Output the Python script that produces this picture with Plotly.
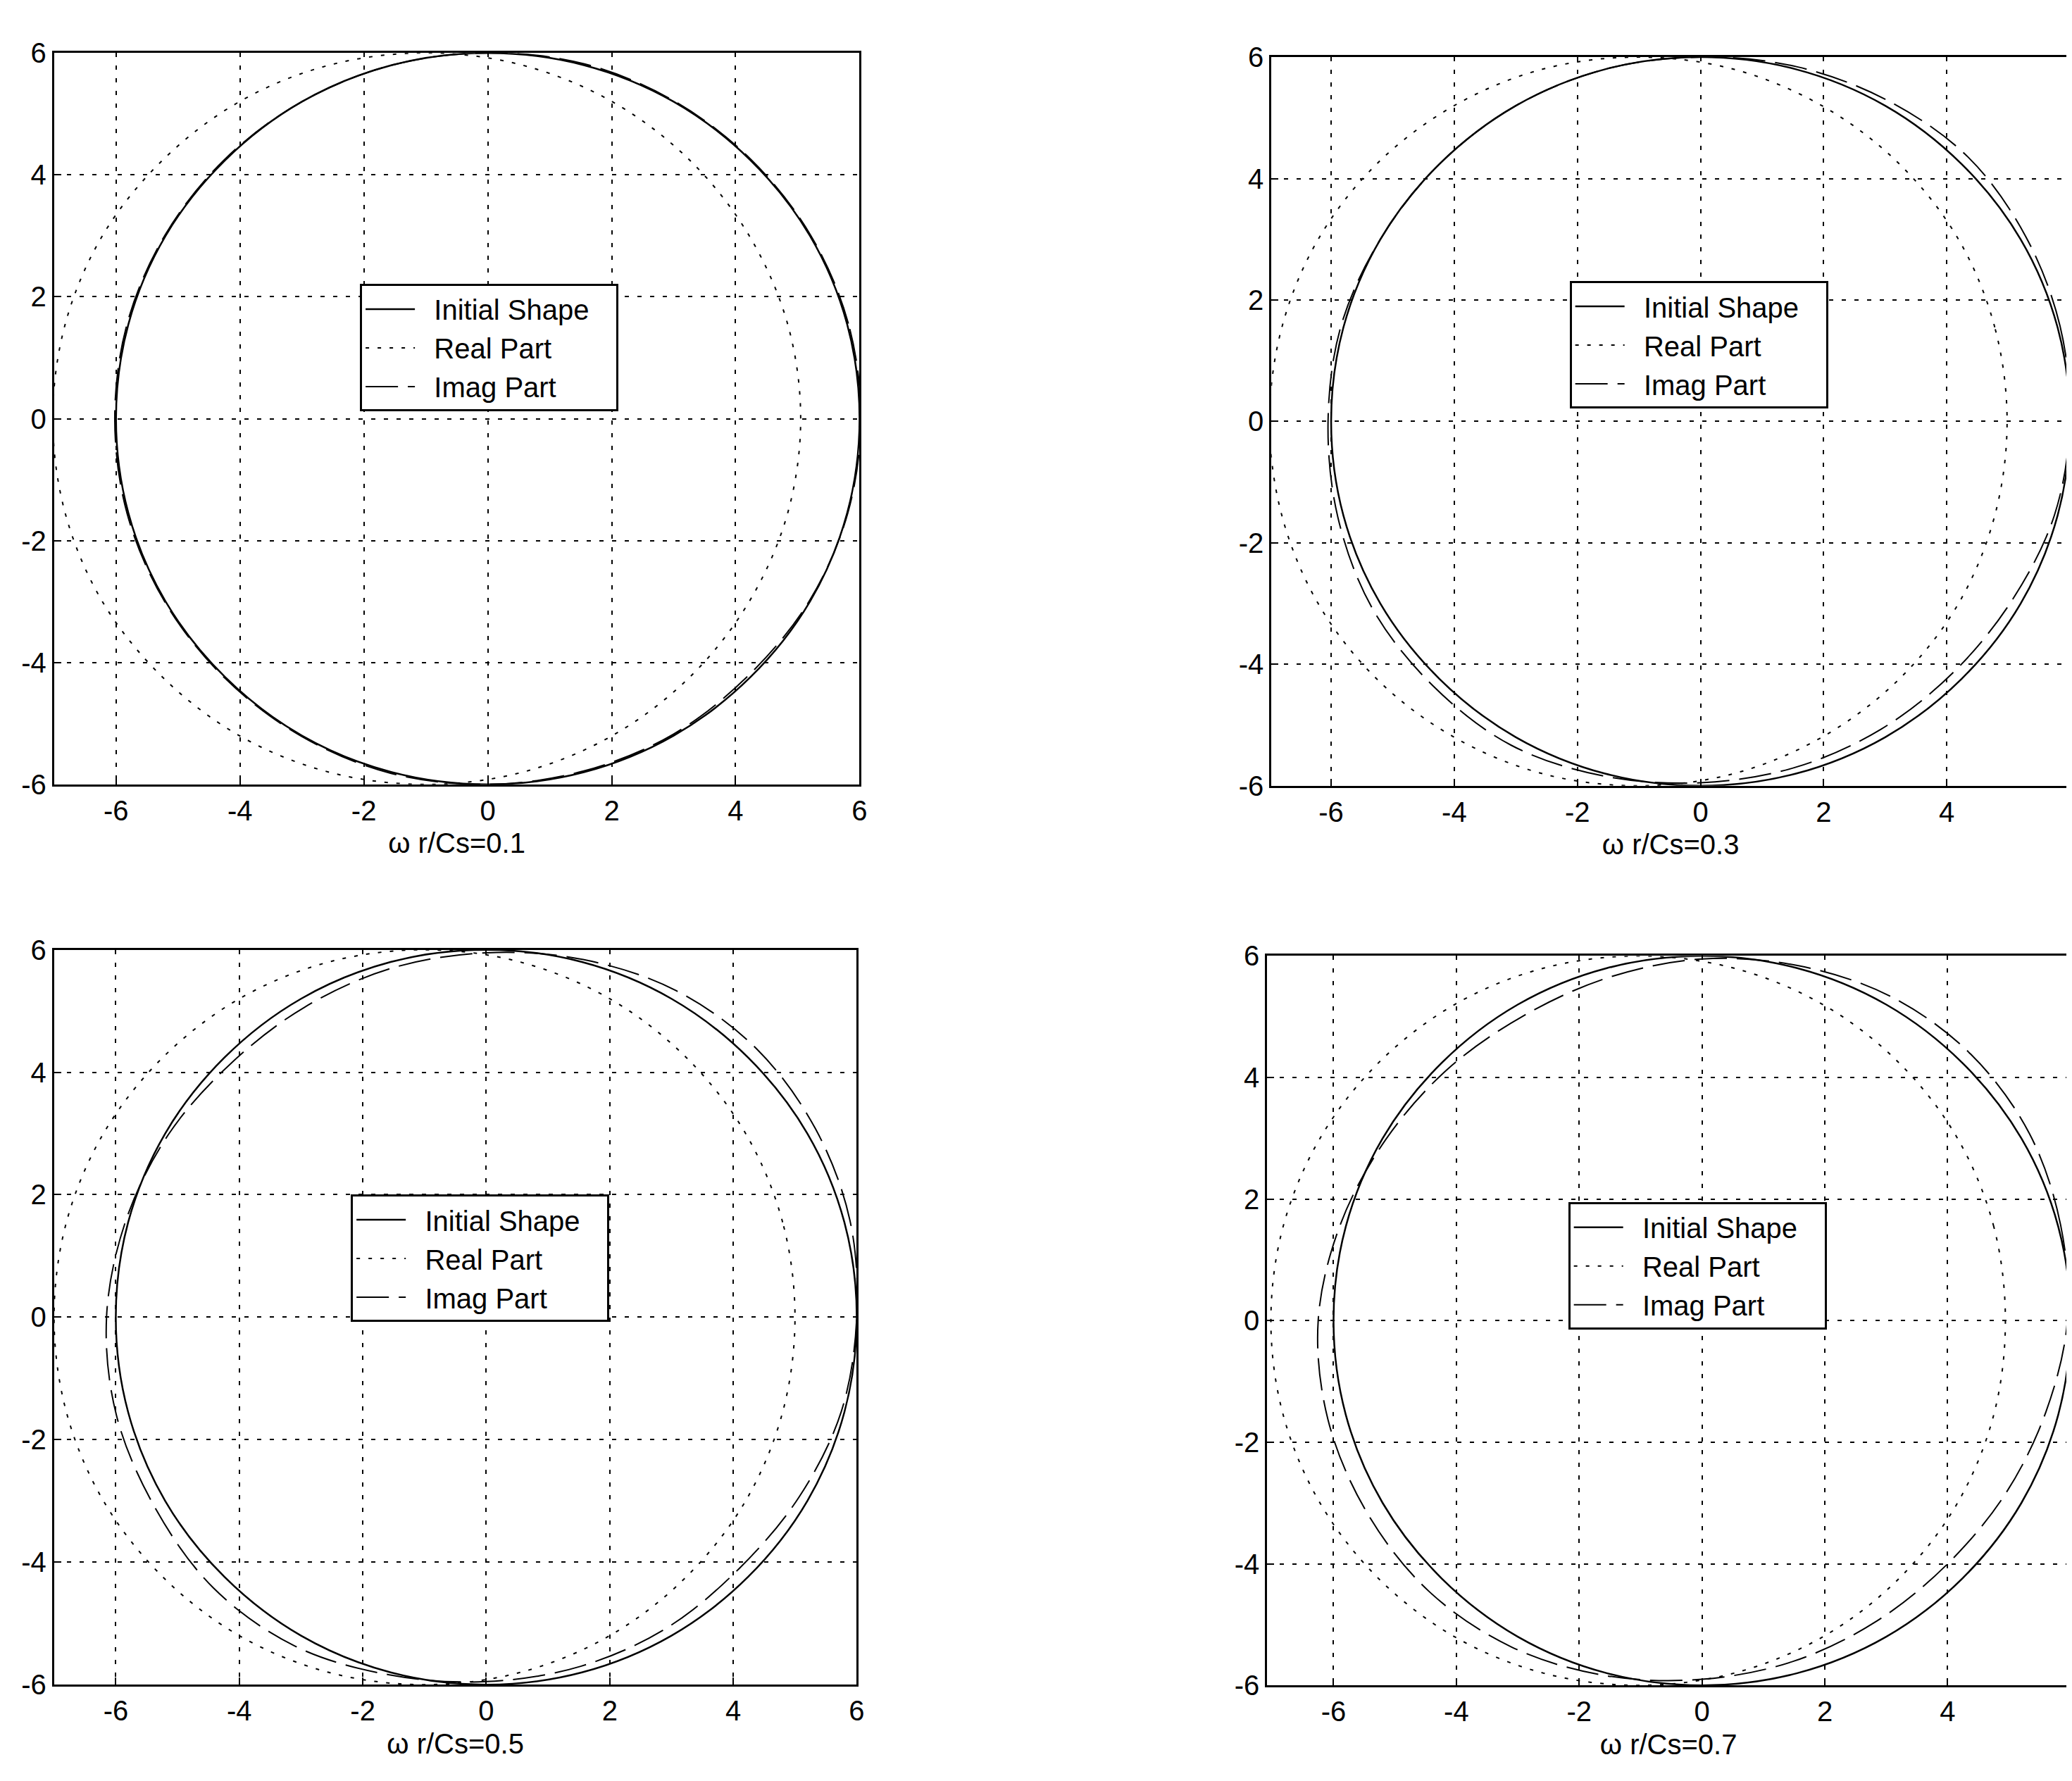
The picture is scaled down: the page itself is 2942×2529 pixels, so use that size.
import plotly.graph_objects as go

FONT = "Liberation Sans, Arial, sans-serif"

tick_vals = [-6, -4, -2, 0, 2, 4, 6]
tick_text = ["-6", "-4", "-2", "0", "2", "4", "6"]
panel_titles = ["ω r/Cs=0.1", "ω r/Cs=0.3", "ω r/Cs=0.5", "ω r/Cs=0.7"]
series_names = ["Initial Shape", "Real Part", "Imag Part"]

# Initial shape (same in all panels)
init_x = [6.00, 5.80, 5.20, 4.24, 3.00, 1.55, 0.00, -1.55, -3.00, -4.24, -5.20, -5.80, -6.00,
          -5.80, -5.20, -4.24, -3.00, -1.55, 0.00, 1.55, 3.00, 4.24, 5.20, 5.80, 6.00]
init_y = [0.00, 1.55, 3.00, 4.24, 5.20, 5.80, 6.00, 5.80, 5.20, 4.24, 3.00, 1.55, 0.00,
          -1.55, -3.00, -4.24, -5.20, -5.80, -6.00, -5.80, -5.20, -4.24, -3.00, -1.55, 0.00]

# omega r/Cs = 0.1
real_x_01 = [5.05, 4.84, 4.22, 3.26, 2.01, 0.56, -1.00, -2.56, -4.01, -5.25, -6.22, -6.82, -7.02,
             -6.82, -6.22, -5.25, -4.01, -2.56, -1.00, 0.56, 2.01, 3.26, 4.22, 4.84, 5.05]
real_y_01 = [0.00, 1.55, 3.00, 4.24, 5.20, 5.80, 6.00, 5.80, 5.20, 4.24, 3.00, 1.55, 0.00,
             -1.55, -3.00, -4.24, -5.20, -5.80, -6.00, -5.80, -5.20, -4.24, -3.00, -1.55, 0.00]
imag_x_01 = [6.02, 5.82, 5.21, 4.25, 3.01, 1.56, 0.00, -1.55, -3.00, -4.25, -5.21, -5.82, -6.02,
             -5.82, -5.21, -4.25, -3.01, -1.56, 0.00, 1.55, 2.99, 4.21, 5.19, 5.81, 6.02]
imag_y_01 = [0.00, 1.56, 3.01, 4.25, 5.21, 5.82, 6.00, 5.80, 5.20, 4.25, 3.01, 1.56, 0.00,
             -1.56, -3.01, -4.25, -5.21, -5.82, -6.00, -5.78, -5.18, -4.21, -2.99, -1.55, 0.00]

# omega r/Cs = 0.3
real_x_03 = [4.98, 4.78, 4.19, 3.23, 1.99, 0.54, -1.02, -2.57, -4.02, -5.26, -6.21, -6.80, -7.00,
             -6.80, -6.21, -5.26, -4.02, -2.57, -1.02, 0.54, 1.99, 3.23, 4.19, 4.78, 4.98]
real_y_03 = [0.00, 1.55, 3.00, 4.24, 5.19, 5.80, 6.00, 5.80, 5.19, 4.24, 3.00, 1.55, 0.00,
             -1.55, -3.00, -4.24, -5.19, -5.80, -6.00, -5.80, -5.19, -4.24, -3.00, -1.55, 0.00]
imag_x_03 = [6.00, 5.84, 5.28, 4.35, 3.05, 1.57, 0.00, -1.55, -3.00, -4.24, -5.20, -5.84, -6.05,
             -5.89, -5.33, -4.35, -3.08, -1.57, 0.00, 1.53, 2.93, 4.12, 5.07, 5.75, 6.00]
imag_y_03 = [0.00, 1.57, 3.05, 4.35, 5.28, 5.84, 6.00, 5.80, 5.20, 4.24, 3.00, 1.57, 0.00,
             -1.58, -3.08, -4.35, -5.33, -5.84, -5.95, -5.70, -5.07, -4.12, -2.93, -1.54, 0.00]

# omega r/Cs = 0.5
real_x_05 = [5.00, 4.80, 4.20, 3.24, 2.00, 0.55, -1.00, -2.55, -4.00, -5.24, -6.20, -6.80, -7.00,
             -6.80, -6.20, -5.24, -4.00, -2.55, -1.00, 0.55, 2.00, 3.24, 4.20, 4.80, 5.00]
real_y_05 = [0.00, 1.55, 3.00, 4.24, 5.20, 5.80, 6.00, 5.80, 5.20, 4.24, 3.00, 1.55, 0.00,
             -1.55, -3.00, -4.24, -5.20, -5.80, -6.00, -5.80, -5.20, -4.24, -3.00, -1.55, 0.00]
imag_x_05 = [6.00, 5.89, 5.33, 4.38, 3.08, 1.57, 0.00, -1.53, -2.93, -4.14, -5.15, -5.84, -6.15,
             -5.99, -5.37, -4.42, -3.10, -1.57, 0.00, 1.53, 2.93, 4.10, 5.07, 5.75, 6.00]
imag_y_05 = [0.00, 1.58, 3.08, 4.38, 5.33, 5.84, 5.95, 5.70, 5.07, 4.14, 2.98, 1.57, 0.00,
             -1.60, -3.10, -4.42, -5.37, -5.84, -5.95, -5.70, -5.07, -4.10, -2.93, -1.54, 0.00]

# omega r/Cs = 0.7
real_x_07 = [4.94, 4.75, 4.16, 3.21, 1.97, 0.52, -1.03, -2.58, -4.03, -5.27, -6.22, -6.82, -7.02,
             -6.82, -6.22, -5.27, -4.03, -2.58, -1.03, 0.52, 1.97, 3.21, 4.16, 4.75, 4.94]
real_y_07 = [0.00, 1.55, 3.00, 4.24, 5.20, 5.80, 6.00, 5.80, 5.20, 4.24, 3.00, 1.55, 0.00,
             -1.55, -3.00, -4.24, -5.20, -5.80, -6.00, -5.80, -5.20, -4.24, -3.00, -1.55, 0.00]
imag_x_07 = [5.95, 5.84, 5.33, 4.38, 3.08, 1.57, 0.00, -1.51, -2.90, -4.14, -5.15, -5.89, -6.25,
             -6.09, -5.46, -4.45, -3.10, -1.57, 0.00, 1.50, 2.85, 4.00, 4.94, 5.60, 5.95]
imag_y_07 = [0.00, 1.57, 3.08, 4.38, 5.33, 5.84, 5.95, 5.65, 5.02, 4.14, 2.98, 1.58, 0.00,
             -1.63, -3.15, -4.45, -5.37, -5.84, -5.90, -5.60, -4.94, -4.00, -2.85, -1.50, 0.00]

real_x = [real_x_01, real_x_03, real_x_05, real_x_07]
real_y = [real_y_01, real_y_03, real_y_05, real_y_07]
imag_x = [imag_x_01, imag_x_03, imag_x_05, imag_x_07]
imag_y = [imag_y_01, imag_y_03, imag_y_05, imag_y_07]

W, H = 2942, 2529
# panel frames in pixels: (left, right, top, bottom), x range
frames = [
    (69, 1217, 46, 1103, [-7.0, 6.0]),
    (1804, 2942, 52, 1105, [-6.97, 6.0]),
    (69, 1213, 1342, 2404, [-7.0, 6.0]),
    (1798, 2942, 1351, 2405, [-7.08, 5.99]),
]
legend_pos = [(505, 380), (2229, 376), (492, 1696), (2227, 1707)]

PAD_L = "\u00a0\u00a0"
PAD_R = "\u00a0\u00a0\u00a0"

fig = go.Figure()
layout = dict(
    width=W, height=H,
    margin=dict(l=0, r=0, t=0, b=0),
    paper_bgcolor="white", plot_bgcolor="white",
    font=dict(family=FONT, size=40, color="black"),
    showlegend=True,
)

for i in range(4):
    sfx = "" if i == 0 else str(i + 1)
    xa, ya = "x" + sfx, "y" + sfx
    lg = "legend" + sfx
    fig.add_trace(go.Scatter(x=init_x, y=init_y, mode="lines", name=PAD_L + series_names[0] + PAD_R,
                             line=dict(color="black", width=2.5, shape="spline", smoothing=1.0),
                             xaxis=xa, yaxis=ya, legend=lg))
    fig.add_trace(go.Scatter(x=real_x[i], y=real_y[i], mode="lines", name=PAD_L + series_names[1],
                             line=dict(color="black", width=2, dash="5px,12px", shape="spline", smoothing=1.0),
                             xaxis=xa, yaxis=ya, legend=lg))
    fig.add_trace(go.Scatter(x=imag_x[i], y=imag_y[i], mode="lines", name=PAD_L + series_names[2],
                             line=dict(color="black", width=2, dash="46px,14px", shape="spline", smoothing=1.0),
                             xaxis=xa, yaxis=ya, legend=lg))

    l, r, t, b, xr = frames[i]
    common = dict(
        tickvals=tick_vals, ticktext=tick_text,
        showgrid=True, gridcolor="black", gridwidth=2, griddash="6px,12px",
        showline=True, mirror=True, linecolor="black", linewidth=3,
        ticks="inside", ticklen=10, tickwidth=2, tickcolor="black",
        zeroline=False, tickfont=dict(family=FONT, size=40, color="black"),
    )
    layout["xaxis" + sfx] = dict(
        domain=[l / W, r / W], range=xr, anchor=ya,
        title=dict(text=panel_titles[i], font=dict(family=FONT, size=40, color="black"), standoff=12),
        **common)
    layout["yaxis" + sfx] = dict(
        domain=[1 - b / H, 1 - t / H], range=[-6, 6], anchor=xa, **common)
    lx, ly = legend_pos[i]
    layout[lg] = dict(
        x=lx / W, y=1 - ly / H, xanchor="left", yanchor="top",
        bgcolor="white", bordercolor="black", borderwidth=3,
        font=dict(family=FONT, size=40, color="black"),
        itemwidth=70, tracegroupgap=0,
    )

fig.update_layout(**layout)
fig.write_html("out.html")
